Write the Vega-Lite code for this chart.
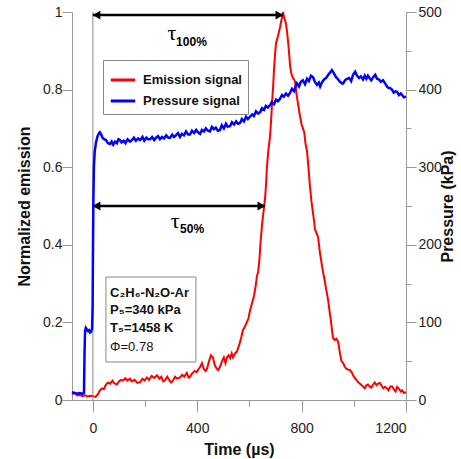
{
  "$schema": "https://vega.github.io/schema/vega-lite/v6.json",
  "width": 334,
  "height": 388,
  "autosize": {"type": "none"},
  "padding": {"left": 72, "top": 12, "right": 55, "bottom": 59},
  "config": {
    "view": {"stroke": null},
    "font": "Liberation Sans",
    "axis": {
      "grid": false,
      "domainColor": "#999",
      "tickColor": "#999",
      "labelColor": "#222",
      "labelFont": "Liberation Sans",
      "labelFontSize": 14,
      "titleFont": "Liberation Sans",
      "titleFontSize": 16,
      "titleFontWeight": "bold",
      "titleColor": "#111"
    }
  },
  "datasets": {
    "emission": [
      {"t":-80,"v":0.015},{"t":-70,"v":0.018},{"t":-60,"v":0.012},{"t":-50,"v":0.013},{"t":-40,"v":0.01},{"t":-30,"v":0.012},{"t":-20,"v":0.009},{"t":-10,"v":0.011},{"t":0,"v":0.01},{"t":10,"v":0.008},{"t":16,"v":0.012},{"t":22,"v":0.018},{"t":27,"v":0.025},{"t":35,"v":0.03},{"t":42,"v":0.028},{"t":50,"v":0.04},{"t":58,"v":0.045},{"t":66,"v":0.042},{"t":75,"v":0.05},{"t":82,"v":0.043},{"t":92,"v":0.04},{"t":100,"v":0.048},{"t":108,"v":0.052},{"t":115,"v":0.05},{"t":125,"v":0.056},{"t":132,"v":0.05},{"t":142,"v":0.055},{"t":150,"v":0.048},{"t":160,"v":0.052},{"t":170,"v":0.044},{"t":181,"v":0.046},{"t":190,"v":0.055},{"t":198,"v":0.05},{"t":207,"v":0.058},{"t":215,"v":0.052},{"t":225,"v":0.062},{"t":235,"v":0.057},{"t":246,"v":0.064},{"t":255,"v":0.055},{"t":262,"v":0.06},{"t":270,"v":0.048},{"t":276,"v":0.05},{"t":285,"v":0.06},{"t":292,"v":0.052},{"t":300,"v":0.045},{"t":307,"v":0.05},{"t":315,"v":0.06},{"t":322,"v":0.055},{"t":334,"v":0.058},{"t":342,"v":0.065},{"t":350,"v":0.06},{"t":360,"v":0.07},{"t":367,"v":0.058},{"t":372,"v":0.06},{"t":380,"v":0.068},{"t":390,"v":0.075},{"t":398,"v":0.072},{"t":405,"v":0.08},{"t":411,"v":0.085},{"t":418,"v":0.095},{"t":425,"v":0.08},{"t":432,"v":0.075},{"t":437,"v":0.08},{"t":445,"v":0.1},{"t":452,"v":0.115},{"t":460,"v":0.11},{"t":467,"v":0.09},{"t":475,"v":0.08},{"t":480,"v":0.077},{"t":487,"v":0.085},{"t":495,"v":0.1},{"t":502,"v":0.11},{"t":508,"v":0.095},{"t":514,"v":0.11},{"t":520,"v":0.115},{"t":526,"v":0.108},{"t":532,"v":0.12},{"t":537,"v":0.11},{"t":545,"v":0.12},{"t":552,"v":0.125},{"t":560,"v":0.14},{"t":568,"v":0.16},{"t":575,"v":0.18},{"t":583,"v":0.19},{"t":590,"v":0.2},{"t":596,"v":0.21},{"t":602,"v":0.23},{"t":610,"v":0.25},{"t":618,"v":0.27},{"t":623,"v":0.29},{"t":629,"v":0.32},{"t":633,"v":0.33},{"t":638,"v":0.36},{"t":643,"v":0.41},{"t":648,"v":0.45},{"t":653,"v":0.48},{"t":660,"v":0.52},{"t":664,"v":0.56},{"t":667,"v":0.6},{"t":672,"v":0.64},{"t":679,"v":0.68},{"t":683,"v":0.72},{"t":687,"v":0.77},{"t":691,"v":0.81},{"t":694,"v":0.85},{"t":698,"v":0.89},{"t":702,"v":0.92},{"t":706,"v":0.93},{"t":710,"v":0.94},{"t":717,"v":0.96},{"t":723,"v":0.98},{"t":729,"v":1.0},{"t":733,"v":0.985},{"t":736,"v":0.98},{"t":740,"v":0.97},{"t":744,"v":0.95},{"t":750,"v":0.91},{"t":756,"v":0.86},{"t":761,"v":0.84},{"t":767,"v":0.83},{"t":772,"v":0.825},{"t":775,"v":0.82},{"t":780,"v":0.79},{"t":787,"v":0.76},{"t":794,"v":0.73},{"t":800,"v":0.71},{"t":805,"v":0.7},{"t":810,"v":0.69},{"t":815,"v":0.66},{"t":821,"v":0.64},{"t":826,"v":0.6},{"t":832,"v":0.55},{"t":838,"v":0.51},{"t":844,"v":0.48},{"t":848,"v":0.46},{"t":851,"v":0.44},{"t":857,"v":0.43},{"t":863,"v":0.42},{"t":870,"v":0.38},{"t":876,"v":0.355},{"t":882,"v":0.33},{"t":888,"v":0.31},{"t":894,"v":0.285},{"t":901,"v":0.26},{"t":907,"v":0.23},{"t":913,"v":0.2},{"t":920,"v":0.16},{"t":926,"v":0.155},{"t":933,"v":0.158},{"t":940,"v":0.15},{"t":947,"v":0.12},{"t":953,"v":0.1},{"t":959,"v":0.095},{"t":966,"v":0.085},{"t":972,"v":0.08},{"t":979,"v":0.078},{"t":986,"v":0.077},{"t":993,"v":0.07},{"t":1000,"v":0.06},{"t":1006,"v":0.055},{"t":1012,"v":0.05},{"t":1018,"v":0.045},{"t":1024,"v":0.042},{"t":1030,"v":0.038},{"t":1035,"v":0.035},{"t":1042,"v":0.03},{"t":1048,"v":0.038},{"t":1054,"v":0.04},{"t":1060,"v":0.035},{"t":1067,"v":0.032},{"t":1074,"v":0.04},{"t":1080,"v":0.045},{"t":1087,"v":0.038},{"t":1093,"v":0.042},{"t":1100,"v":0.044},{"t":1107,"v":0.036},{"t":1113,"v":0.03},{"t":1120,"v":0.034},{"t":1127,"v":0.03},{"t":1133,"v":0.025},{"t":1140,"v":0.035},{"t":1147,"v":0.035},{"t":1153,"v":0.028},{"t":1160,"v":0.022},{"t":1166,"v":0.034},{"t":1172,"v":0.03},{"t":1180,"v":0.022},{"t":1185,"v":0.025},{"t":1192,"v":0.018},{"t":1200,"v":0.02}
    ],
    "pressure": [
      {"t":-80,"p":10},{"t":-70,"p":9},{"t":-60,"p":8},{"t":-50,"p":9},{"t":-40,"p":8},{"t":-34,"p":9},{"t":-32,"p":60},{"t":-30,"p":88},{"t":-27,"p":93},{"t":-23,"p":91},{"t":-19,"p":89},{"t":-15,"p":90},{"t":-11,"p":87},{"t":-7,"p":88},{"t":-3,"p":92},{"t":-1,"p":120},{"t":0.5,"p":200},{"t":2,"p":260},{"t":4,"p":300},{"t":7,"p":320},{"t":12,"p":332},{"t":18,"p":340},{"t":24,"p":344},{"t":27,"p":345},{"t":32,"p":342},{"t":37,"p":338},{"t":43,"p":336},{"t":50,"p":335},{"t":58,"p":331},{"t":66,"p":330},{"t":72,"p":333},{"t":78,"p":329},{"t":85,"p":333},{"t":92,"p":331},{"t":98,"p":336},{"t":104,"p":335},{"t":110,"p":332},{"t":118,"p":334},{"t":125,"p":331},{"t":133,"p":336},{"t":142,"p":333},{"t":150,"p":335},{"t":157,"p":338},{"t":165,"p":334},{"t":173,"p":337},{"t":181,"p":335},{"t":190,"p":339},{"t":197,"p":334},{"t":205,"p":338},{"t":212,"p":336},{"t":219,"p":336},{"t":227,"p":339},{"t":235,"p":335},{"t":242,"p":338},{"t":250,"p":340},{"t":257,"p":336},{"t":265,"p":339},{"t":273,"p":337},{"t":281,"p":341},{"t":289,"p":338},{"t":296,"p":338},{"t":304,"p":342},{"t":311,"p":339},{"t":318,"p":341},{"t":326,"p":344},{"t":334,"p":339},{"t":341,"p":343},{"t":349,"p":341},{"t":357,"p":346},{"t":365,"p":342},{"t":372,"p":342},{"t":380,"p":347},{"t":388,"p":344},{"t":396,"p":348},{"t":403,"p":345},{"t":411,"p":343},{"t":418,"p":348},{"t":426,"p":346},{"t":433,"p":350},{"t":441,"p":347},{"t":449,"p":346},{"t":456,"p":352},{"t":464,"p":349},{"t":471,"p":351},{"t":479,"p":347},{"t":487,"p":348},{"t":494,"p":354},{"t":502,"p":350},{"t":510,"p":356},{"t":517,"p":352},{"t":526,"p":353},{"t":533,"p":358},{"t":541,"p":355},{"t":549,"p":359},{"t":556,"p":356},{"t":564,"p":357},{"t":571,"p":362},{"t":579,"p":359},{"t":587,"p":365},{"t":594,"p":362},{"t":602,"p":365},{"t":610,"p":368},{"t":617,"p":366},{"t":625,"p":372},{"t":633,"p":369},{"t":641,"p":371},{"t":648,"p":376},{"t":656,"p":374},{"t":663,"p":379},{"t":671,"p":377},{"t":679,"p":380},{"t":686,"p":384},{"t":694,"p":381},{"t":702,"p":387},{"t":709,"p":385},{"t":717,"p":388},{"t":725,"p":393},{"t":732,"p":391},{"t":740,"p":395},{"t":748,"p":392},{"t":756,"p":396},{"t":763,"p":401},{"t":771,"p":398},{"t":778,"p":405},{"t":782,"p":408},{"t":790,"p":404},{"t":797,"p":410},{"t":805,"p":412},{"t":813,"p":407},{"t":821,"p":414},{"t":828,"p":411},{"t":836,"p":418},{"t":844,"p":416},{"t":851,"p":410},{"t":859,"p":406},{"t":866,"p":409},{"t":871,"p":404},{"t":879,"p":410},{"t":886,"p":413},{"t":894,"p":415},{"t":902,"p":419},{"t":909,"p":422},{"t":916,"p":425},{"t":924,"p":421},{"t":932,"p":416},{"t":940,"p":413},{"t":947,"p":410},{"t":955,"p":408},{"t":959,"p":408},{"t":966,"p":412},{"t":974,"p":414},{"t":982,"p":415},{"t":990,"p":411},{"t":997,"p":419},{"t":1005,"p":423},{"t":1012,"p":418},{"t":1020,"p":415},{"t":1027,"p":417},{"t":1035,"p":413},{"t":1042,"p":418},{"t":1048,"p":414},{"t":1054,"p":418},{"t":1060,"p":415},{"t":1067,"p":412},{"t":1074,"p":416},{"t":1082,"p":419},{"t":1089,"p":414},{"t":1097,"p":413},{"t":1104,"p":410},{"t":1112,"p":412},{"t":1120,"p":408},{"t":1127,"p":404},{"t":1133,"p":402},{"t":1139,"p":402},{"t":1146,"p":400},{"t":1153,"p":396},{"t":1160,"p":398},{"t":1166,"p":397},{"t":1173,"p":393},{"t":1180,"p":395},{"t":1185,"p":393},{"t":1192,"p":390},{"t":1200,"p":391}
    ],
    "arrows": [{"x":0,"x2":729,"y":0.992},{"x":0,"x2":660,"y":0.5}],
    "headsLeft": [{"x":14,"y":0.992},{"x":14,"y":0.5}],
    "headsRight": [{"x":715,"y":0.992},{"x":646,"y":0.5}],
    "tau": [{"x":303,"y":0.946,"t":"τ"},{"x":315,"y":0.461,"t":"τ"}],
    "tauSub": [{"x":319,"y":0.923,"t":"100%"},{"x":334,"y":0.441,"t":"50%"}],
    "box": [{"x":50,"x2":395,"y":0.098,"y2":0.317}],
    "boxTextBold": [
      {"x":66,"y":0.276,"t":"C₂H₆-N₂O-Ar"},
      {"x":66,"y":0.232,"t":"P₅=340 kPa"},
      {"x":66,"y":0.186,"t":"T₅=1458 K"}
    ],
    "boxTextNormal": [
      {"x":66,"y":0.137,"t":"Φ=0.78"}
    ],
    "vline": [{"x":0,"y":0,"y2":1}]
  },
  "layer": [
    {
      "layer": [
        {
          "data": {"name": "emission"},
          "mark": {"type": "line", "strokeWidth": 2},
          "encoding": {
            "x": {
              "field": "t", "type": "quantitative",
              "scale": {"domain": [-80, 1200], "nice": false},
              "axis": {
                "title": "Time (µs)",
                "values": [0, 200, 400, 600, 800, 1000, 1200],
                "labelExpr": "datum.value % 400 === 0 ? '' + datum.value : ''",
                "tickSize": {"condition": {"test": "datum.value % 400 === 0", "value": 12}, "value": 6},
                "labelPadding": 9,
                "titlePadding": 6
              }
            },
            "y": {
              "field": "v", "type": "quantitative",
              "scale": {"domain": [0, 1], "nice": false},
              "axis": {
                "title": "Normalized emission",
                "values": [0, 0.1, 0.2, 0.3, 0.4, 0.5, 0.6, 0.7, 0.8, 0.9, 1],
                "labelExpr": "round(datum.value * 10) % 2 === 0 ? '' + datum.value : ''",
                "tickSize": {"condition": {"test": "round(datum.value * 10) % 2 === 0", "value": 10}, "value": 5},
                "labelPadding": 0,
                "titlePadding": 10
              }
            },
            "color": {
              "datum": "Emission signal",
              "scale": {"domain": ["Emission signal", "Pressure signal"], "range": ["#ff0000", "#0000ff"]},
              "legend": {
                "orient": "none", "legendX": 31, "legendY": 48, "title": null,
                "symbolType": "stroke", "symbolStrokeWidth": 3, "symbolSize": 600,
                "labelFontSize": 13, "labelFontWeight": "bold", "labelFont": "Liberation Sans", "labelColor": "#111",
                "strokeColor": "#888", "fillColor": "white", "padding": 6, "rowPadding": -4, "labelOffset": 6
              }
            }
          }
        },
        {
          "data": {"name": "vline"},
          "mark": {"type": "rule", "color": "#888", "strokeWidth": 1},
          "encoding": {
            "x": {"field": "x", "type": "quantitative", "scale": {"domain": [-80, 1200], "nice": false}},
            "y": {"field": "y", "type": "quantitative", "scale": {"domain": [0, 1], "nice": false}},
            "y2": {"field": "y2"}
          }
        },
        {
          "data": {"name": "arrows"},
          "mark": {"type": "rule", "color": "black", "strokeWidth": 2.5},
          "encoding": {
            "x": {"field": "x", "type": "quantitative", "scale": {"domain": [-80, 1200], "nice": false}},
            "x2": {"field": "x2"},
            "y": {"field": "y", "type": "quantitative", "scale": {"domain": [0, 1], "nice": false}}
          }
        },
        {
          "data": {"name": "headsLeft"},
          "mark": {"type": "point", "shape": "triangle-left", "filled": true, "color": "black", "size": 80, "opacity": 1},
          "encoding": {
            "x": {"field": "x", "type": "quantitative", "scale": {"domain": [-80, 1200], "nice": false}},
            "y": {"field": "y", "type": "quantitative", "scale": {"domain": [0, 1], "nice": false}}
          }
        },
        {
          "data": {"name": "headsRight"},
          "mark": {"type": "point", "shape": "triangle-right", "filled": true, "color": "black", "size": 80, "opacity": 1},
          "encoding": {
            "x": {"field": "x", "type": "quantitative", "scale": {"domain": [-80, 1200], "nice": false}},
            "y": {"field": "y", "type": "quantitative", "scale": {"domain": [0, 1], "nice": false}}
          }
        },
        {
          "data": {"name": "tau"},
          "mark": {"type": "text", "font": "Liberation Serif", "fontSize": 22, "align": "center", "baseline": "middle", "color": "black"},
          "encoding": {
            "x": {"field": "x", "type": "quantitative", "scale": {"domain": [-80, 1200], "nice": false}},
            "y": {"field": "y", "type": "quantitative", "scale": {"domain": [0, 1], "nice": false}},
            "text": {"field": "t"}
          }
        },
        {
          "data": {"name": "tauSub"},
          "mark": {"type": "text", "font": "Liberation Sans", "fontSize": 12, "fontWeight": "bold", "align": "left", "baseline": "middle", "color": "black"},
          "encoding": {
            "x": {"field": "x", "type": "quantitative", "scale": {"domain": [-80, 1200], "nice": false}},
            "y": {"field": "y", "type": "quantitative", "scale": {"domain": [0, 1], "nice": false}},
            "text": {"field": "t"}
          }
        },
        {
          "data": {"name": "box"},
          "mark": {"type": "rect", "fill": "white", "stroke": "#888", "strokeWidth": 1},
          "encoding": {
            "x": {"field": "x", "type": "quantitative", "scale": {"domain": [-80, 1200], "nice": false}},
            "x2": {"field": "x2"},
            "y": {"field": "y", "type": "quantitative", "scale": {"domain": [0, 1], "nice": false}},
            "y2": {"field": "y2"}
          }
        },
        {
          "data": {"name": "boxTextBold"},
          "mark": {"type": "text", "font": "Liberation Sans", "fontSize": 13, "fontWeight": "bold", "align": "left", "baseline": "middle", "color": "#111"},
          "encoding": {
            "x": {"field": "x", "type": "quantitative", "scale": {"domain": [-80, 1200], "nice": false}},
            "y": {"field": "y", "type": "quantitative", "scale": {"domain": [0, 1], "nice": false}},
            "text": {"field": "t"}
          }
        },
        {
          "data": {"name": "boxTextNormal"},
          "mark": {"type": "text", "font": "Liberation Sans", "fontSize": 13, "align": "left", "baseline": "middle", "color": "#111"},
          "encoding": {
            "x": {"field": "x", "type": "quantitative", "scale": {"domain": [-80, 1200], "nice": false}},
            "y": {"field": "y", "type": "quantitative", "scale": {"domain": [0, 1], "nice": false}},
            "text": {"field": "t"}
          }
        }
      ]
    },
    {
      "data": {"name": "pressure"},
      "mark": {"type": "line", "strokeWidth": 2.5},
      "encoding": {
        "x": {"field": "t", "type": "quantitative", "scale": {"domain": [-80, 1200], "nice": false}},
        "y": {
          "field": "p", "type": "quantitative",
          "scale": {"domain": [0, 500], "nice": false},
          "axis": {
            "orient": "right",
            "title": "Pressure (kPa)",
            "titleAngle": 270,
            "values": [0, 50, 100, 150, 200, 250, 300, 350, 400, 450, 500],
            "labelExpr": "datum.value % 100 === 0 ? datum.label : ''",
            "tickSize": {"condition": {"test": "datum.value % 100 === 0", "value": 10}, "value": 5},
            "labelPadding": 2,
            "titlePadding": 14
          }
        },
        "color": {"datum": "Pressure signal"}
      }
    }
  ],
  "resolve": {"scale": {"y": "independent"}}
}
